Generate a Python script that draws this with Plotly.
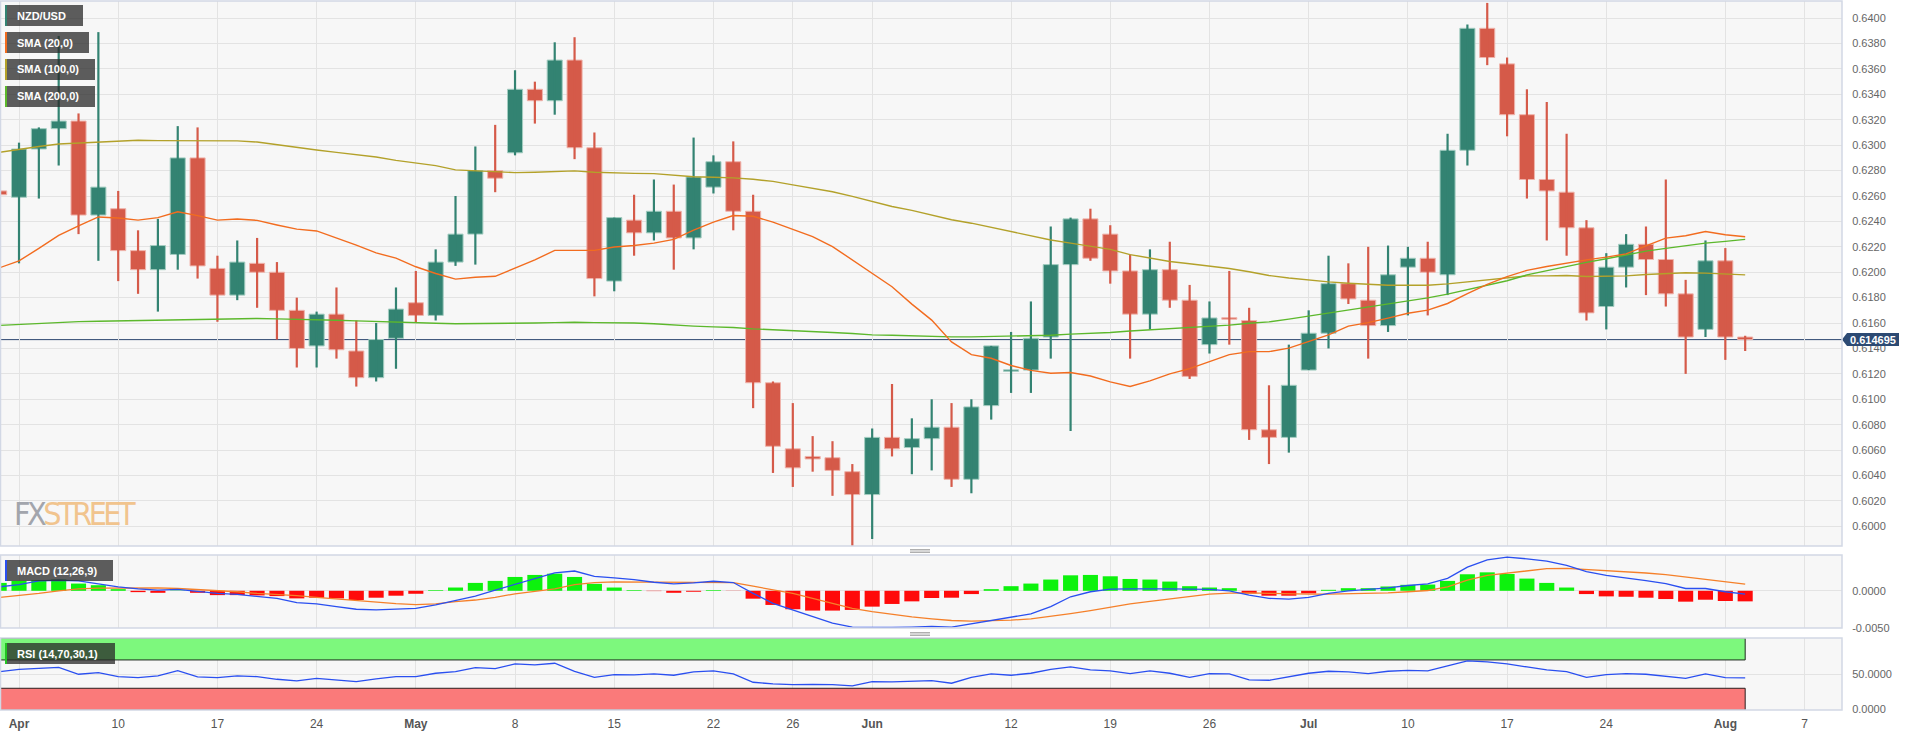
import plotly.graph_objects as go
import pandas as pd

W, H = 1918, 736
PLOT_R = 1842

# ---------------- data ----------------
dates = pd.bdate_range("2023-03-31", "2023-08-08").strftime("%Y-%m-%d").tolist()

opens = [0.6264, 0.6259, 0.6297, 0.6313, 0.6319, 0.6245, 0.6250, 0.6217, 0.6202, 0.6214,
         0.6290, 0.6203, 0.6182, 0.6207, 0.6200, 0.6170, 0.6142, 0.6167, 0.6138, 0.6117,
         0.6148, 0.6176, 0.6166, 0.6208, 0.6230, 0.6280, 0.6294, 0.6344, 0.6335, 0.6367,
         0.6298, 0.6193, 0.6241, 0.6231, 0.6248, 0.6227, 0.6267, 0.6287, 0.6248, 0.6113,
         0.6061, 0.6055, 0.6054, 0.6043, 0.6025, 0.6070, 0.6062, 0.6069, 0.6078, 0.6037,
         0.6095, 0.6122, 0.6123, 0.6149, 0.6206, 0.6242, 0.6230, 0.6201, 0.6167, 0.6202,
         0.6178, 0.6143, 0.6164, 0.6162, 0.6076, 0.6070, 0.6123, 0.6152, 0.6191, 0.6178,
         0.6158, 0.6204, 0.6211, 0.6198, 0.6296, 0.6392, 0.6364, 0.6324, 0.6273, 0.6263,
         0.6235, 0.6173, 0.6204, 0.6222, 0.6210, 0.6183, 0.6155, 0.6209, 0.6149]
highs = [0.6294, 0.6302, 0.6314, 0.6386, 0.6325, 0.6389, 0.6264, 0.6233, 0.6242, 0.6315,
         0.6314, 0.6213, 0.6225, 0.6227, 0.6208, 0.6180, 0.6169, 0.6188, 0.6162, 0.6160,
         0.6188, 0.6201, 0.6218, 0.6260, 0.6299, 0.6316, 0.6359, 0.6350, 0.6381, 0.6385,
         0.6310, 0.6243, 0.6261, 0.6273, 0.6269, 0.6306, 0.6292, 0.6303, 0.6261, 0.6114,
         0.6097, 0.6071, 0.6067, 0.6049, 0.6077, 0.6112, 0.6085, 0.6100, 0.6097, 0.6100,
         0.6142, 0.6153, 0.6177, 0.6236, 0.6243, 0.6250, 0.6237, 0.6214, 0.6218, 0.6224,
         0.6190, 0.6177, 0.6201, 0.6172, 0.6111, 0.6143, 0.6170, 0.6213, 0.6207, 0.6220,
         0.6221, 0.6220, 0.6224, 0.6309, 0.6395, 0.6412, 0.6369, 0.6344, 0.6334, 0.6309,
         0.6241, 0.6215, 0.6230, 0.6236, 0.6273, 0.6194, 0.6225, 0.6219, 0.6150]
lows = [0.6237, 0.6207, 0.6258, 0.6284, 0.6230, 0.6209, 0.6193, 0.6183, 0.6169, 0.6202,
        0.6195, 0.6161, 0.6178, 0.6172, 0.6147, 0.6125, 0.6125, 0.6132, 0.6110, 0.6114,
        0.6124, 0.6160, 0.6162, 0.6205, 0.6206, 0.6263, 0.6292, 0.6317, 0.6324, 0.6289,
        0.6181, 0.6185, 0.6213, 0.6225, 0.6202, 0.6218, 0.6262, 0.6233, 0.6093, 0.6042,
        0.6031, 0.6043, 0.6024, 0.5984, 0.5990, 0.6055, 0.6041, 0.6044, 0.6031, 0.6026,
        0.6084, 0.6105, 0.6105, 0.6132, 0.6075, 0.6209, 0.6191, 0.6132, 0.6155, 0.6172,
        0.6116, 0.6136, 0.6143, 0.6068, 0.6049, 0.6058, 0.6123, 0.6140, 0.6175, 0.6132,
        0.6153, 0.6166, 0.6166, 0.6182, 0.6284, 0.6363, 0.6307, 0.6258, 0.6225, 0.6213,
        0.6162, 0.6155, 0.6188, 0.6182, 0.6173, 0.6120, 0.6149, 0.6131, 0.6138]
closes = [0.6261, 0.6297, 0.6313, 0.6319, 0.6245, 0.6267, 0.6217, 0.6202, 0.6221, 0.6290,
          0.6205, 0.6182, 0.6208, 0.6200, 0.6170, 0.6140, 0.6167, 0.6139, 0.6117, 0.6147,
          0.6171, 0.6166, 0.6208, 0.6230, 0.6280, 0.6274, 0.6344, 0.6335, 0.6367, 0.6298,
          0.6195, 0.6243, 0.6231, 0.6248, 0.6227, 0.6275, 0.6287, 0.6248, 0.6113, 0.6063,
          0.6046, 0.6053, 0.6044, 0.6025, 0.6070, 0.6061, 0.6069, 0.6078, 0.6037, 0.6094,
          0.6142, 0.6123, 0.6148, 0.6206, 0.6242, 0.6211, 0.6201, 0.6167, 0.6202, 0.6178,
          0.6118, 0.6164, 0.6163, 0.6076, 0.6070, 0.6111, 0.6152, 0.6191, 0.6179, 0.6158,
          0.6198, 0.6211, 0.6200, 0.6296, 0.6392, 0.6369, 0.6324, 0.6273, 0.6264, 0.6235,
          0.6168, 0.6204, 0.6222, 0.6210, 0.6183, 0.6149, 0.6209, 0.6149, 0.614695]

sma20 = [0.62034, 0.62089, 0.62188, 0.62290, 0.62364, 0.62435, 0.62427, 0.62410, 0.62430, 0.62476,
         0.62446, 0.62410, 0.62419, 0.62408, 0.62372, 0.62339, 0.62325, 0.62270, 0.62213, 0.62152,
         0.62111, 0.62043, 0.61990, 0.61946, 0.61960, 0.61968, 0.62034, 0.62097, 0.62172, 0.62174,
         0.62172, 0.62199, 0.62210, 0.62229, 0.62259, 0.62331, 0.62394, 0.62446, 0.62441, 0.62394,
         0.62339, 0.62281, 0.62202, 0.62097, 0.61988, 0.61886, 0.61749, 0.61623, 0.61452, 0.61351,
         0.61323, 0.61266, 0.61227, 0.61205, 0.61211, 0.61183, 0.61137, 0.61101, 0.61145, 0.61200,
         0.61241, 0.61293, 0.61351, 0.61375, 0.61375, 0.61403, 0.61452, 0.61507, 0.61576, 0.61603,
         0.61639, 0.61677, 0.61702, 0.61754, 0.61831, 0.61905, 0.61965, 0.62015, 0.62045, 0.62073,
         0.62097, 0.62119, 0.62144, 0.62207, 0.62268, 0.62287, 0.62320, 0.62295, 0.62279]
sma100 = [0.62943, 0.62968, 0.62990, 0.63009, 0.63017, 0.63028, 0.63036, 0.63039, 0.63036, 0.63036,
          0.63034, 0.63034, 0.63034, 0.63025, 0.63003, 0.62979, 0.62962, 0.62943, 0.62927, 0.62907,
          0.62880, 0.62861, 0.62839, 0.62806, 0.62798, 0.62787, 0.62784, 0.62787, 0.62792, 0.62798,
          0.62787, 0.62781, 0.62778, 0.62776, 0.62762, 0.62751, 0.62748, 0.62743, 0.62732, 0.62715,
          0.62688, 0.62660, 0.62633, 0.62597, 0.62556, 0.62517, 0.62487, 0.62449, 0.62413, 0.62386,
          0.62353, 0.62317, 0.62284, 0.62254, 0.62229, 0.62207, 0.62180, 0.62139, 0.62111, 0.62084,
          0.62067, 0.62048, 0.62029, 0.62004, 0.61974, 0.61955, 0.61938, 0.61924, 0.61913, 0.61905,
          0.61897, 0.61897, 0.61897, 0.61908, 0.61924, 0.61944, 0.61960, 0.61971, 0.61971, 0.61974,
          0.61966, 0.61966, 0.61971, 0.61982, 0.61990, 0.61996, 0.61993, 0.61988, 0.61979]
sma200 = [0.61581, 0.61590, 0.61598, 0.61606, 0.61611, 0.61614, 0.61617, 0.61620, 0.61622, 0.61628,
          0.61631, 0.61631, 0.61633, 0.61636, 0.61633, 0.61631, 0.61628, 0.61622, 0.61617, 0.61611,
          0.61609, 0.61600, 0.61598, 0.61595, 0.61595, 0.61595, 0.61598, 0.61600, 0.61603, 0.61606,
          0.61603, 0.61603, 0.61600, 0.61595, 0.61584, 0.61576, 0.61570, 0.61565, 0.61554, 0.61548,
          0.61540, 0.61535, 0.61526, 0.61518, 0.61507, 0.61504, 0.61499, 0.61496, 0.61491, 0.61491,
          0.61493, 0.61496, 0.61499, 0.61504, 0.61513, 0.61518, 0.61526, 0.61537, 0.61546, 0.61554,
          0.61562, 0.61573, 0.61584, 0.61598, 0.61609, 0.61631, 0.61655, 0.61680, 0.61702, 0.61724,
          0.61751, 0.61773, 0.61798, 0.61828, 0.61864, 0.61902, 0.61933, 0.61979, 0.62012, 0.62048,
          0.62078, 0.62106, 0.62139, 0.62166, 0.62188, 0.62210, 0.62229, 0.62243, 0.62259]

macd_line = [0.00053, 0.00084, 0.00133, 0.00142, 0.00133, 0.00093, 0.00053, 0.00027, 0.00009, 0.00018,
             -0.00013, -0.00035, -0.00049, -0.00071, -0.00102, -0.00159, -0.00177, -0.00213, -0.00248, -0.00257,
             -0.00248, -0.00235, -0.00190, -0.00133, -0.00071, 0.00009, 0.00089, 0.00160, 0.00240, 0.00266,
             0.00195, 0.00173, 0.00151, 0.00115, 0.00093, 0.00106, 0.00128, 0.00111, -0.00035, -0.00168,
             -0.00257, -0.00346, -0.00434, -0.00487, -0.00492, -0.00492, -0.00487, -0.00478, -0.00487, -0.00443,
             -0.00403, -0.00354, -0.00310, -0.00213, -0.00080, -0.00013, 0.00022, 0.00027, 0.00031, 0.00027,
             0.00022, 0.00018, 0.00000, -0.00058, -0.00102, -0.00111, -0.00089, -0.00035, 0.00000, 0.00018,
             0.00040, 0.00071, 0.00093, 0.00168, 0.00319, 0.00416, 0.00452, 0.00430, 0.00399, 0.00341,
             0.00257, 0.00208, 0.00177, 0.00137, 0.00097, 0.00031, 0.00031, -0.00013, -0.00044]
macd_signal = [-0.00089, -0.00066, -0.00035, 0.00000, 0.00027, 0.00035, 0.00040, 0.00040, 0.00040, 0.00031,
               0.00018, 0.00004, -0.00013, -0.00035, -0.00049, -0.00066, -0.00089, -0.00111, -0.00133, -0.00155,
               -0.00173, -0.00186, -0.00177, -0.00146, -0.00124, -0.00089, -0.00040, -0.00009, 0.00027, 0.00084,
               0.00111, 0.00120, 0.00120, 0.00115, 0.00111, 0.00111, 0.00115, 0.00111, 0.00062, 0.00018,
               -0.00035, -0.00102, -0.00168, -0.00235, -0.00279, -0.00319, -0.00350, -0.00377, -0.00399, -0.00408,
               -0.00403, -0.00394, -0.00377, -0.00346, -0.00306, -0.00266, -0.00217, -0.00177, -0.00142, -0.00106,
               -0.00071, -0.00044, -0.00031, -0.00027, -0.00035, -0.00044, -0.00044, -0.00044, -0.00040, -0.00035,
               -0.00027, -0.00013, 0.00004, 0.00053, 0.00142, 0.00208, 0.00239, 0.00275, 0.00297, 0.00301,
               0.00288, 0.00275, 0.00257, 0.00239, 0.00217, 0.00186, 0.00155, 0.00124, 0.00089]
macd_hist = [0.00106, 0.00133, 0.00142, 0.00151, 0.00097, 0.00075, 0.00022, -0.00018, -0.00027, 0.00004,
             -0.00027, -0.00058, -0.00058, -0.00062, -0.00071, -0.00102, -0.00093, -0.00102, -0.00124, -0.00093,
             -0.00066, -0.00040, 0.00009, 0.00044, 0.00106, 0.00133, 0.00186, 0.00213, 0.00230, 0.00186,
             0.00093, 0.00044, 0.00009, -0.00004, -0.00027, -0.00013, 0.00009, -0.00002, -0.00106, -0.00190,
             -0.00248, -0.00266, -0.00266, -0.00257, -0.00213, -0.00177, -0.00142, -0.00097, -0.00093, -0.00044,
             0.00022, 0.00062, 0.00097, 0.00151, 0.00208, 0.00213, 0.00195, 0.00159, 0.00151, 0.00124,
             0.00062, 0.00044, 0.00035, -0.00035, -0.00066, -0.00066, -0.00035, 0.00013, 0.00035, 0.00035,
             0.00058, 0.00080, 0.00084, 0.00133, 0.00222, 0.00248, 0.00226, 0.00164, 0.00106, 0.00044,
             -0.00044, -0.00075, -0.00080, -0.00093, -0.00111, -0.00146, -0.00120, -0.00137, -0.00142]

rsi = [53.5, 56.8, 58.2, 59.6, 49.8, 52.1, 46.5, 45.1, 47.4, 54.9,
       46.0, 45.1, 47.4, 46.5, 42.7, 40.4, 44.1, 41.8, 39.4, 43.2,
       46.5, 46.5, 51.2, 53.5, 59.2, 57.8, 64.4, 62.9, 65.3, 54.0,
       45.5, 49.3, 48.8, 50.2, 48.4, 53.1, 54.5, 50.2, 38.5, 36.1,
       35.2, 35.6, 35.2, 33.3, 39.4, 38.9, 39.4, 40.8, 37.1, 45.5,
       50.2, 48.4, 51.2, 56.8, 60.1, 55.9, 54.5, 50.7, 54.5, 51.2,
       45.5, 50.7, 50.2, 41.8, 41.3, 46.5, 51.2, 54.0, 53.1, 50.7,
       54.0, 55.4, 54.5, 61.5, 68.6, 67.2, 64.4, 60.1, 55.9, 53.5,
       45.5, 49.3, 50.7, 49.8, 47.4, 44.1, 50.2, 45.1, 44.6]

tick_dates = ["2023-04-03", "2023-04-10", "2023-04-17", "2023-04-24", "2023-05-01", "2023-05-08",
              "2023-05-15", "2023-05-22", "2023-05-26", "2023-06-01", "2023-06-12", "2023-06-19",
              "2023-06-26", "2023-07-03", "2023-07-10", "2023-07-17", "2023-07-24", "2023-08-01",
              "2023-08-07"]
tick_text = ["<b>Apr</b>", "10", "17", "24", "<b>May</b>", "8", "15", "22", "26", "<b>Jun</b>",
             "12", "19", "26", "<b>Jul</b>", "10", "17", "24", "<b>Aug</b>", "7"]

price_ticks = [0.6000 + 0.002 * k for k in range(21)]

# ---------------- style ----------------
UP, DOWN = "#338372", "#d55a49"
UP_EDGE, DOWN_EDGE = "#a3cdc1", "#efb4ac"
C20, C100, C200 = "#f26c1f", "#b3a12a", "#5cb82c"
GRID = "#e3e3e3"
BORDER = "#d2d8e5"
FONT = "Liberation Sans, Arial, sans-serif"


def px_x(x):
    return x / W


def px_y(y):
    return 1 - y / H


n = len(closes)
d = dates[:n]
is_up = [c >= o for o, c in zip(opens, closes)]

MAIN_TOP, MAIN_BOT = 1, 546
MACD_TOP, MACD_BOT = 555, 628
RSI_TOP, RSI_BOT = 638, 710
y_main = [0.59845, 0.64135]
y_macd = [-0.0050, 0.00481]
y_rsi = [-0.7, 101]
x_range = [0.042, 92.88]
price_per_px = (y_main[1] - y_main[0]) / (MAIN_BOT - MAIN_TOP)

fig = go.Figure()


def wicks(flag):
    xs, ys = [], []
    for k in range(n):
        if is_up[k] == flag:
            xs += [d[k], d[k], None]
            ys += [lows[k], highs[k], None]
    return xs, ys


for flag, col in ((True, UP), (False, DOWN)):
    xs, ys = wicks(flag)
    fig.add_trace(go.Scatter(x=xs, y=ys, mode="lines", line=dict(color=col, width=2.2),
                             hoverinfo="skip", xaxis="x", yaxis="y"))

for flag, col, edge in ((True, UP, UP_EDGE), (False, DOWN, DOWN_EDGE)):
    idx = [k for k in range(n) if is_up[k] == flag]
    fig.add_trace(go.Bar(
        x=[d[k] for k in idx],
        base=[min(opens[k], closes[k]) for k in idx],
        y=[max(abs(closes[k] - opens[k]), 0.00012) for k in idx],
        width=0.76, marker=dict(color=col, line=dict(color=edge, width=1)),
        hoverinfo="skip", xaxis="x", yaxis="y"))

for vals, col in ((sma100, C100), (sma200, C200), (sma20, C20)):
    fig.add_trace(go.Scatter(x=d, y=vals, mode="lines", line=dict(color=col, width=1.4),
                             hoverinfo="skip", xaxis="x", yaxis="y"))

# MACD
fig.add_trace(go.Bar(x=d, y=macd_hist, width=0.76,
                     marker=dict(color=["#0df20d" if v >= 0 else "#ff0a0a" for v in macd_hist], line=dict(width=0)),
                     hoverinfo="skip", xaxis="x2", yaxis="y2"))
fig.add_trace(go.Scatter(x=d, y=macd_signal, mode="lines", line=dict(color="#f5802a", width=1.3),
                         hoverinfo="skip", xaxis="x2", yaxis="y2"))
fig.add_trace(go.Scatter(x=d, y=macd_line, mode="lines", line=dict(color="#2a4ff0", width=1.3),
                         hoverinfo="skip", xaxis="x2", yaxis="y2"))

# RSI
fig.add_trace(go.Scatter(x=d, y=rsi, mode="lines", line=dict(color="#2a4ff0", width=1.3),
                         hoverinfo="skip", xaxis="x3", yaxis="y3"))

shapes = []
annotations = []

# RSI zones
shapes.append(dict(type="rect", xref="x3", yref="y3", x0=x_range[0], x1=n - 1, y0=70, y1=101,
                   fillcolor="#7df87d", line=dict(color="#1f2a1f", width=1), layer="between"))
shapes.append(dict(type="rect", xref="x3", yref="y3", x0=x_range[0], x1=n - 1, y0=-1, y1=30,
                   fillcolor="#fa7a7a", line=dict(color="#2a1f1f", width=1), layer="between"))

# last price line + tag
last = closes[-1]
shapes.append(dict(type="line", xref="paper", yref="y", x0=0, x1=px_x(PLOT_R), y0=last, y1=last,
                   line=dict(color="#2c4670", width=1), layer="between"))
hh = 6.5 * price_per_px
xt, xb0, xb1 = px_x(PLOT_R), px_x(1847), px_x(1899)
shapes.append(dict(type="path", xref="paper", yref="y",
                   path=f"M {xt},{last} L {xb0},{last + hh} L {xb1},{last + hh} L {xb1},{last - hh} L {xb0},{last - hh} Z",
                   fillcolor="#2c4a73", line=dict(width=0), layer="above"))
annotations.append(dict(xref="paper", yref="y", x=px_x(1873), y=last, text=f"{last:.6f}",
                        showarrow=False, xanchor="center", yanchor="middle",
                        font=dict(color="white", size=11, family=FONT, weight="bold")))

# panel borders
for top, bot in ((MAIN_TOP, MAIN_BOT), (MACD_TOP, MACD_BOT), (RSI_TOP, RSI_BOT)):
    shapes.append(dict(type="rect", xref="paper", yref="paper", x0=px_x(0.5), x1=px_x(PLOT_R),
                       y0=px_y(bot), y1=px_y(top), line=dict(color=BORDER, width=1.5),
                       fillcolor="rgba(0,0,0,0)", layer="above"))

# resize handles
for yc in (551.0, 634.0):
    for dy in (-1.5, 0, 1.5):
        shapes.append(dict(type="line", xref="paper", yref="paper", x0=px_x(910), x1=px_x(930),
                           y0=px_y(yc + dy), y1=px_y(yc + dy), line=dict(color="#9a9a9a", width=0.8)))

# legend boxes
legend_items = [("NZD/USD", UP, 83, 5, 26), ("SMA (20,0)", C20, 89, 32, 53),
                ("SMA (100,0)", C100, 95, 59, 80), ("SMA (200,0)", C200, 95, 86, 107),
                ("MACD (12,26,9)", "#2a4ff0", 113, 560, 581), ("RSI (14,70,30,1)", "#22c422", 115, 643, 664)]
for label, col, xr, yt, yb in legend_items:
    shapes.append(dict(type="rect", xref="paper", yref="paper", x0=px_x(5), x1=px_x(xr),
                       y0=px_y(yb), y1=px_y(yt), fillcolor="rgba(40,40,40,0.75)",
                       line=dict(width=0), layer="above"))
    shapes.append(dict(type="rect", xref="paper", yref="paper", x0=px_x(5), x1=px_x(7),
                       y0=px_y(yb), y1=px_y(yt), fillcolor=col, line=dict(width=0), layer="above"))
    annotations.append(dict(xref="paper", yref="paper", x=px_x(15), y=px_y((yt + yb) / 2),
                            text=label, showarrow=False, xanchor="left", yanchor="middle",
                            font=dict(color="white", size=11, family=FONT, weight="bold")))

# watermark
annotations.append(dict(xref="paper", yref="paper", x=px_x(12), y=px_y(514),
                        text='<span style="color:#a2a5ac;letter-spacing:-3.5px">FX</span>'
                             '<span style="color:#f1c48e;letter-spacing:-3.5px">STREET</span>',
                        showarrow=False, xanchor="left", yanchor="middle",
                        font=dict(size=32, family="Liberation Sans Narrow, DejaVu Sans Condensed, Liberation Sans")))

xcommon = dict(type="category", categoryorder="array", categoryarray=dates, range=x_range,
               tickvals=tick_dates, ticktext=tick_text, showgrid=True, gridcolor=GRID, gridwidth=1,
               zeroline=False, showline=False, ticks="", fixedrange=True, automargin=False)
xdom = [0, px_x(PLOT_R)]

ycommon = dict(side="right", showgrid=True, gridcolor=GRID, gridwidth=1, zeroline=False,
               showline=False, ticks="outside", ticklen=7, tickcolor="rgba(0,0,0,0)",
               tickfont=dict(size=11, color="#666666", family=FONT), fixedrange=True, automargin=False)

fig.update_layout(
    width=W, height=H, margin=dict(l=0, r=0, t=0, b=0, autoexpand=False), autosize=False,
    paper_bgcolor="white", plot_bgcolor="#f7f7f7", showlegend=False, barmode="overlay",
    font=dict(family=FONT),
    xaxis=dict(xcommon, domain=xdom, anchor="y", showticklabels=False),
    xaxis2=dict(xcommon, domain=xdom, anchor="y2", matches="x", showticklabels=False),
    xaxis3=dict(xcommon, domain=xdom, anchor="y3", matches="x", showticklabels=True,
                ticks="outside", ticklen=3, tickcolor="rgba(0,0,0,0)",
                tickfont=dict(size=12, color="#555555", family=FONT)),
    yaxis=dict(ycommon, domain=[px_y(MAIN_BOT), px_y(MAIN_TOP)], anchor="x", range=y_main,
               tickvals=price_ticks, ticktext=[f"{v:.4f}" for v in price_ticks]),
    yaxis2=dict(ycommon, domain=[px_y(MACD_BOT), px_y(MACD_TOP)], anchor="x2", range=y_macd,
                tickvals=[0, -0.005], ticktext=["0.0000", "-0.0050"]),
    yaxis3=dict(ycommon, domain=[px_y(RSI_BOT), px_y(RSI_TOP)], anchor="x3", range=y_rsi,
                tickvals=[0, 50], ticktext=["0.0000", "50.0000"]),
    shapes=shapes, annotations=annotations,
)

fig.write_html("out.html", config={"displayModeBar": False, "staticPlot": True},
               post_script="document.body.style.margin='0px';document.body.style.overflow='hidden';")
